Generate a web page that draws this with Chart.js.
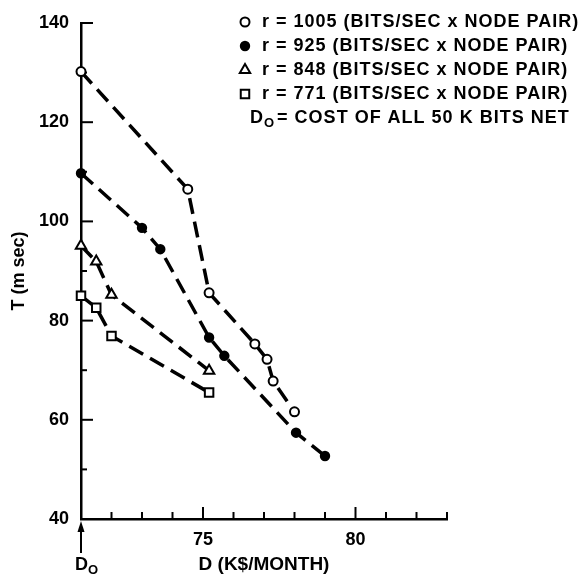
<!DOCTYPE html>
<html>
<head>
<meta charset="utf-8">
<script src="https://cdn.jsdelivr.net/npm/chart.js@4.4.0/dist/chart.umd.min.js"></script>
<style>
  html, body { margin: 0; padding: 0; background: #fff; }
  #wrap { width: 582px; height: 579px; }
</style>
</head>
<body>
<div id="wrap"><canvas id="delayChart" width="582" height="579"></canvas></div>
<script>
// Values: D (K$/month) against T (msec), one pair per throughput r
const rValues = [1005, 925, 848, 771];

const cost1005 = [71, 74.5, 75.2, 76.7, 77.1, 77.3, 78.0];
const delay1005 = [130.2, 106.5, 85.6, 75.3, 72.2, 67.8, 61.6];

const cost925 = [71, 73.0, 73.6, 75.2, 75.7, 78.05, 79.0];
const delay925 = [109.7, 98.7, 94.4, 76.6, 72.9, 57.4, 52.7];

const cost848 = [71, 71.5, 72.0, 75.2];
const delay848 = [95.1, 91.9, 85.2, 69.9];

const cost771 = [71, 71.5, 72.0, 75.2];
const delay771 = [85.0, 82.6, 76.9, 65.5];

const d0 = 71;          // D0, cost of the all 50 K bits net, where the x axis starts
const xMax = 83;
const xTickLabels = [75, 80];
const yTickLabels = [40, 60, 80, 100, 120, 140];
const legendUnit = '(BITS/SEC x NODE PAIR)';
const d0Note = 'COST OF ALL 50 K BITS NET';

const FONT = '"Liberation Sans", Arial, sans-serif';
const font18 = { family: FONT, size: 18, weight: 'bold' };

const pts = (xs, ys) => xs.map((x, i) => ({ x: x, y: ys[i] }));

const markers = [
    { style: 'circle', fill: '#fff', radius: 4.5 },
    { style: 'circle', fill: '#000', radius: 4.2 },
    { style: 'triangle', fill: '#fff', radius: 6 },
    { style: 'rect', fill: '#fff', radius: 6 }
];

function series(i, xs, ys) {
    const m = markers[i];
    return {
        label: 'r = ' + rValues[i],
        data: pts(xs, ys),
        showLine: true,
        borderColor: '#000',
        borderWidth: 3.5,
        borderDash: [16, 8],
        pointStyle: m.style,
        pointRadius: m.radius,
        pointBackgroundColor: m.fill,
        pointBorderColor: '#000',
        pointBorderWidth: 2,
        clip: false
    };
}

function drawMarker(ctx, m, x, y) {
    const r = m.radius;
    ctx.save();
    ctx.beginPath();
    if (m.style === 'circle') {
        ctx.arc(x, y, r, 0, Math.PI * 2);
    } else if (m.style === 'triangle') {
        ctx.moveTo(x, y - r);
        ctx.lineTo(x + r * 0.866, y + r / 2);
        ctx.lineTo(x - r * 0.866, y + r / 2);
        ctx.closePath();
    } else {
        const s = r * Math.SQRT1_2;
        ctx.rect(x - s, y - s, 2 * s, 2 * s);
    }
    ctx.fillStyle = m.fill;
    ctx.fill();
    ctx.lineWidth = 2;
    ctx.strokeStyle = '#000';
    ctx.stroke();
    ctx.restore();
}

// inward ticks, the legend block and the D0 marker under the axis
const paperDecor = {
    id: 'paperDecor',
    beforeDatasetsDraw(chart) {
        const ctx = chart.ctx;
        const xs = chart.scales.x, ys = chart.scales.y;
        const area = chart.chartArea;
        ctx.save();
        ctx.strokeStyle = '#000';
        ctx.lineWidth = 2;
        xs.ticks.forEach(t => {
            if (t.value === d0) return;
            const px = xs.getPixelForValue(t.value);
            const len = xTickLabels.includes(t.value) ? 12 : 7;
            ctx.beginPath();
            ctx.moveTo(px, area.bottom);
            ctx.lineTo(px, area.bottom - len);
            ctx.stroke();
        });
        ys.ticks.forEach(t => {
            if (t.value === 40) return;
            const py = ys.getPixelForValue(t.value);
            const len = yTickLabels.includes(t.value) ? 12 : 6;
            ctx.beginPath();
            ctx.moveTo(area.left, py);
            ctx.lineTo(area.left + len, py);
            ctx.stroke();
        });
        ctx.restore();
    },
    afterDatasetsDraw(chart) {
        const ctx = chart.ctx;
        const xs = chart.scales.x;
        const area = chart.chartArea;
        ctx.save();
        ctx.fillStyle = '#000';
        ctx.textBaseline = 'middle';
        ctx.font = 'bold 18px ' + FONT;
        ctx.letterSpacing = '1px';

        const lx = 245, tx = 262, top = 22, step = 24;
        rValues.forEach((r, i) => {
            const y = top + i * step;
            drawMarker(ctx, markers[i], lx, y);
            ctx.fillText('r = ' + r + ' ' + legendUnit, tx, y);
        });
        const ny = top + 4 * step;
        ctx.fillText('D', 250, ny);
        const dw = ctx.measureText('D').width;
        ctx.font = 'bold 13px ' + FONT;
        ctx.fillText('O', 250 + dw, ny + 5);
        const ow = ctx.measureText('O').width;
        ctx.font = 'bold 18px ' + FONT;
        ctx.fillText('= ' + d0Note, 250 + dw + ow + 2, ny);

        // D0 arrow and label below the x axis
        const ax = xs.getPixelForValue(d0);
        ctx.letterSpacing = '0px';
        ctx.strokeStyle = '#000';
        ctx.lineWidth = 2;
        ctx.beginPath();
        ctx.moveTo(ax, area.bottom + 34);
        ctx.lineTo(ax, area.bottom + 8);
        ctx.stroke();
        ctx.beginPath();
        ctx.moveTo(ax, area.bottom + 2);
        ctx.lineTo(ax + 3.5, area.bottom + 13);
        ctx.lineTo(ax - 3.5, area.bottom + 13);
        ctx.closePath();
        ctx.fill();
        ctx.fillText('D', ax - 6, area.bottom + 46);
        const dw2 = ctx.measureText('D').width;
        ctx.font = 'bold 13px ' + FONT;
        ctx.fillText('O', ax - 6 + dw2, area.bottom + 51);
        ctx.restore();
    }
};

new Chart(document.getElementById('delayChart'), {
    type: 'scatter',
    data: {
        datasets: [
            series(0, cost1005, delay1005),
            series(1, cost925, delay925),
            series(2, cost848, delay848),
            series(3, cost771, delay771)
        ]
    },
    options: {
        responsive: false,
        animation: false,
        layout: { padding: { top: 23, right: 135, left: 0, bottom: 0 } },
        plugins: {
            legend: { display: false },
            tooltip: { enabled: false }
        },
        scales: {
            x: {
                type: 'linear',
                min: d0,
                max: xMax,
                afterFit: s => { s.height = 60; },
                grid: { display: false, drawTicks: false },
                border: { display: true, color: '#000', width: 2.5 },
                ticks: {
                    stepSize: 1,
                    autoSkip: false,
                    maxRotation: 0,
                    padding: 10,
                    color: '#000',
                    font: font18,
                    callback: v => xTickLabels.includes(v) ? String(v) : ''
                },
                title: {
                    display: true,
                    text: 'D (K$/MONTH)',
                    color: '#000',
                    font: { family: FONT, size: 19, weight: 'bold' },
                    padding: { top: 0, bottom: 3 }
                }
            },
            y: {
                type: 'linear',
                min: 40,
                max: 140,
                afterFit: s => { s.width = 81; },
                grid: { display: false, drawTicks: false },
                border: { display: true, color: '#000', width: 2.5 },
                ticks: {
                    stepSize: 10,
                    autoSkip: false,
                    padding: 12,
                    color: '#000',
                    font: font18,
                    callback: v => yTickLabels.includes(v) ? String(v) : ''
                },
                title: {
                    display: true,
                    text: 'T (m sec)',
                    color: '#000',
                    font: font18,
                    padding: { top: 8, bottom: 0 }
                }
            }
        }
    },
    plugins: [paperDecor]
});
</script>
</body>
</html>
